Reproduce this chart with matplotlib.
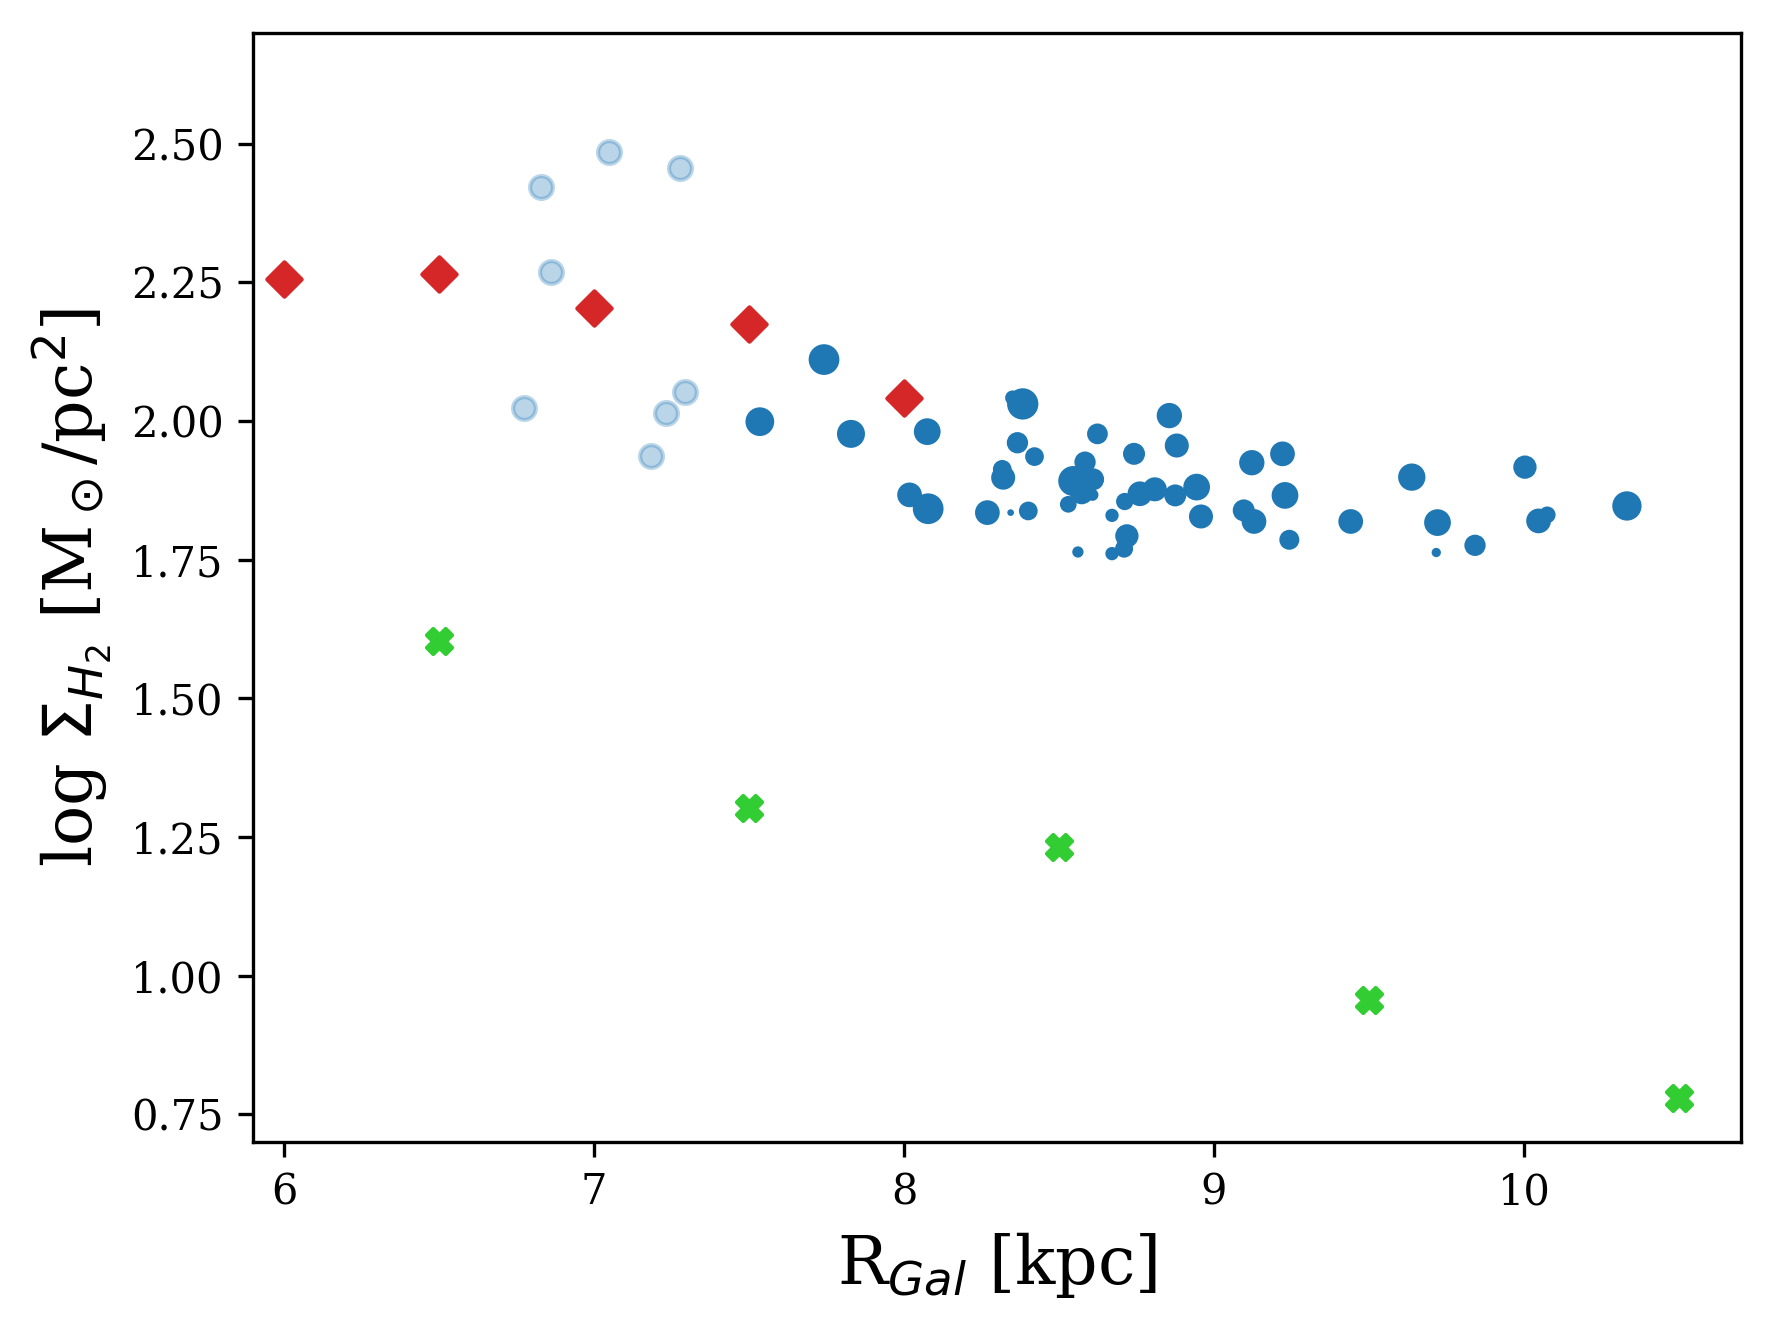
import matplotlib
matplotlib.use("Agg")
import matplotlib.pyplot as plt

plt.rcParams['font.family'] = ['DejaVu Serif']

# Dark blue clouds: R_Gal [kpc], log Sigma_H2, marker area
clouds_r = [8.075, 8.383, 8.350, 8.366, 8.421, 8.320, 8.317, 8.018, 8.078, 8.269,
            8.344, 8.401, 8.624, 8.584, 8.546, 8.610, 8.573, 8.530, 8.608, 8.742,
            8.671, 8.712, 8.761, 8.809, 8.875, 8.944, 8.958, 8.856, 8.880, 8.719,
            8.710, 8.561, 8.671, 9.122, 9.221, 9.096, 9.129, 9.229, 9.243, 9.441,
            9.638, 9.721, 9.717, 9.842, 10.003, 10.047, 10.075, 10.332, 7.742, 7.535,
            7.829]
clouds_sigma = [1.981, 2.031, 2.042, 1.961, 1.936, 1.898, 1.913, 1.867, 1.842, 1.835,
                1.835, 1.838, 1.977, 1.926, 1.892, 1.895, 1.871, 1.850, 1.867, 1.941,
                1.830, 1.855, 1.869, 1.877, 1.866, 1.881, 1.828, 2.010, 1.956, 1.793,
                1.770, 1.764, 1.761, 1.925, 1.941, 1.839, 1.819, 1.866, 1.786, 1.819,
                1.899, 1.817, 1.763, 1.776, 1.917, 1.820, 1.831, 1.847, 2.111, 1.999,
                1.977]
clouds_size = [29.3, 42.4, 6.4, 16.9, 12.2, 22.7, 12.2, 24.3, 40.6, 24.3,
               0.36, 12.2, 15.8, 16.9, 38.4, 18.3, 21.1, 9.0, 3.5, 18.3,
               4.8, 9.9, 24.3, 22.7, 18.3, 29.3, 22.7, 25.7, 22.7, 21.1,
               11.0, 2.9, 4.8, 25.7, 24.3, 18.3, 24.3, 29.3, 14.4, 24.3,
               30.8, 29.3, 1.5, 16.9, 21.1, 24.3, 9.0, 36.4, 40.6, 34.7,
               32.7]

# Light blue clouds
inner_r = [7.050, 6.829, 7.277, 6.862, 6.774, 7.292, 7.231, 7.185]
inner_sigma = [2.485, 2.422, 2.456, 2.269, 2.023, 2.052, 2.014, 1.937]

# Red diamonds
red_r = [6.0, 6.5, 7.0, 7.5, 8.0]
red_sigma = [2.257, 2.266, 2.204, 2.175, 2.042]

# Green crosses
green_r = [6.5, 7.5, 8.5, 9.5, 10.5]
green_sigma = [1.603, 1.302, 1.232, 0.956, 0.779]

fig = plt.figure(figsize=(1774/300, 1330/300), dpi=300)
ax = fig.add_axes([0.1426, 0.1414, 0.9814-0.1426, 0.9752-0.1414])

ax.scatter(inner_r, inner_sigma, s=30, color='tab:blue', alpha=0.3)
ax.scatter(clouds_r, clouds_sigma, s=clouds_size, color='tab:blue')
ax.scatter(red_r, red_sigma, s=34, marker='D', color='tab:red')
ax.scatter(green_r, green_sigma, s=36, marker='X', color='limegreen')

ax.set_xlim(5.9, 10.7)
ax.set_ylim(0.7, 2.7)
ax.set_xticks([6, 7, 8, 9, 10])
ax.set_yticks([0.75, 1.0, 1.25, 1.5, 1.75, 2.0, 2.25, 2.5])
ax.yaxis.set_major_formatter(matplotlib.ticker.FormatStrFormatter('%.2f'))
ax.set_xlabel(r'R$_{Gal}$ [kpc]', fontsize=16)
ax.set_ylabel(r'log $\Sigma_{H_2}$ [M$_\odot$/pc$^2$]', fontsize=16)

fig.savefig('out.png', dpi=300)
